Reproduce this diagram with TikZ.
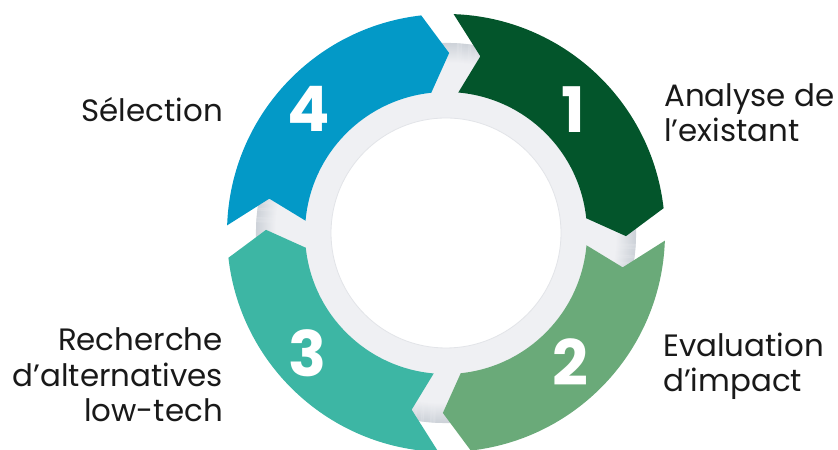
\documentclass[tikz,border=0pt]{standalone}
\usepackage{fontspec}
\setmainfont{Poppins}
\definecolor{one}{RGB}{3,85,43}
\definecolor{two}{RGB}{106,170,121}
\definecolor{three}{RGB}{61,182,164}
\definecolor{four}{RGB}{3,153,199}
\definecolor{ringgray}{RGB}{239,240,243}
\definecolor{ringdark}{RGB}{204,209,216}
\definecolor{discline}{RGB}{226,228,232}
\tikzset{
  num/.style={text=white, font=\fontsize{63}{63}\bfseries\selectfont, inner sep=0pt},
  lbl/.style={font=\fontsize{31}{36}\selectfont, inner sep=0pt, text=black!90}
}
\begin{document}
\begin{tikzpicture}[x=1bp,y=1bp]
\useasboundingbox (0,0) rectangle (838,450);
\coordinate (C) at (446,217);
% ring behind the arrows
\fill[ringgray] (C) circle (190);
\foreach \k in {0,...,19}
  \draw[line width=1.1bp, ringdark!\the\numexpr\k*5\relax!ringgray] (C) circle (170.5+\k);
\fill[white] (C) circle (115);
\draw[discline, line width=0.8bp] (C) circle (115);
% the four arrows
\begin{scope}[shift={(C)}]
\foreach \r/\fc in {0/one,-90/two,-180/three,-270/four}
  \fill[\fc] ({88+\r}:219) arc[start angle={88+\r}, end angle={6.5+\r}, radius=219]
    -- ({-1+\r}:180) -- ({6+\r}:141) arc[start angle={6+\r}, end angle={85+\r}, radius=141]
    -- ({79+\r}:180) -- cycle;
\node[num] (n1) at (44:177) {1};
\node[num] (n2) at (-46:179) {2};
\node[num] (n3) at (221:183) {3};
\node[num] (n4) at (138:185) {4};
\end{scope}
% labels (base = last line)
\node[lbl, anchor=base west, align=left] (analyse) at (664,308) {Analyse de\\l’existant};
\node[lbl, anchor=base west, align=left] (evaluation) at (663,58) {Evaluation\\d’impact};
\node[lbl, anchor=base east, align=right] (recherche) at (223,28) {Recherche\\d’alternatives\\low-tech};
\node[lbl, anchor=base east] (selection) at (223,328) {Sélection};
\end{tikzpicture}
\end{document}
